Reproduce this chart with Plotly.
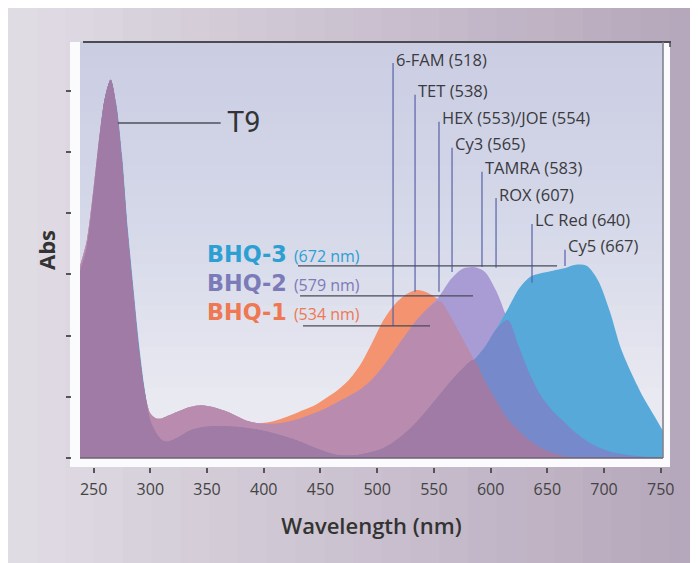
import numpy as np
import plotly.graph_objects as go

# ---------------- data ----------------
wavelength = [238, 244, 250, 256, 260, 265, 270, 275, 280, 285, 290, 295, 300, 305, 310,
              315, 325, 335, 345, 355, 365, 375, 385, 395, 405, 415, 425, 435, 445, 455,
              465, 475, 485, 495, 505, 515, 525, 535, 545, 555, 565, 575, 585, 595, 605,
              615, 625, 635, 645, 655, 665, 675, 685, 695, 705, 715, 725, 735, 745, 752]

bhq1 = [3.2, 3.62, 4.5, 5.5, 6.0, 6.3, 5.85, 4.95, 3.75, 2.75, 1.8, 1.1, 0.74, 0.66, 0.66,
        0.7, 0.78, 0.85, 0.88, 0.85, 0.79, 0.71, 0.62, 0.58, 0.6, 0.65, 0.72, 0.8, 0.88, 1.0,
        1.13, 1.3, 1.55, 1.9, 2.28, 2.55, 2.72, 2.8, 2.75, 2.62, 2.35, 2.0, 1.65, 1.28, 0.95,
        0.65, 0.45, 0.28, 0.16, 0.08, 0.03, 0.01, 0, 0, 0, 0, 0, 0, 0, 0]

bhq2 = [3.2, 3.62, 4.5, 5.5, 6.0, 6.3, 5.85, 4.95, 3.75, 2.75, 1.8, 1.1, 0.74, 0.66, 0.66,
        0.7, 0.78, 0.85, 0.88, 0.85, 0.79, 0.71, 0.62, 0.58, 0.57, 0.58, 0.62, 0.68, 0.75, 0.83,
        0.93, 1.03, 1.14, 1.3, 1.52, 1.78, 2.05, 2.3, 2.5, 2.7, 2.98, 3.15, 3.18, 3.1, 2.78,
        2.3, 1.85, 1.38, 1.02, 0.78, 0.6, 0.42, 0.28, 0.18, 0.11, 0.07, 0.04, 0.02, 0.01, 0]

bhq3 = [3.1, 3.5, 4.4, 5.45, 6.0, 6.3, 5.9, 5.05, 3.85, 2.85, 1.9, 1.15, 0.62, 0.42, 0.3,
        0.27, 0.35, 0.46, 0.51, 0.53, 0.53, 0.52, 0.5, 0.47, 0.43, 0.38, 0.32, 0.25, 0.17, 0.1,
        0.05, 0.04, 0.06, 0.1, 0.16, 0.27, 0.42, 0.6, 0.82, 1.05, 1.28, 1.48, 1.63, 1.85, 2.15,
        2.48, 2.82, 3.02, 3.08, 3.12, 3.16, 3.22, 3.2, 2.95, 2.45, 1.82, 1.38, 1.0, 0.68, 0.45]

dye_names = ["6-FAM (518)", "TET (538)", "HEX (553)/JOE (554)", "Cy3 (565)",
             "TAMRA (583)", "ROX (607)", "LC Red (640)", "Cy5 (667)"]
dye_line_nm = [514, 533.4, 554.5, 566, 592.4, 604.8, 636.5, 665.6]
dye_line_top = [6.58, 6.05, 5.6, 5.17, 4.77, 4.33, 3.9, 3.47]
dye_line_bottom = [2.2, 2.77, 2.77, 3.1, 3.18, 3.17, 2.92, 3.2]

bhq_names = ["BHQ-3", "BHQ-2", "BHQ-1"]
bhq_peaks = ["(672 nm)", "(579 nm)", "(534 nm)"]
bhq_label_nm = 348
bhq_label_y = 2.92
bhq_line_start = [430.2, 432.0, 434.6]
bhq_line_end = [658.6, 584.5, 546.6]
bhq_line_y = [3.2, 2.7, 2.2]

t9_line_nm = [271.4, 362.0]
t9_line_y = 5.58
t9_label_nm = 366.0

x_ticks = [250, 300, 350, 400, 450, 500, 550, 600, 650, 700, 750]

# ---------------- styling ----------------
OFF = 8                      # page body margin of the browser
W, H = 690, 555
ML, MR, MT, MB = 63, 28, 34, 96
PW = W - ML - MR
PH = H - MT - MB


def pxx(px):                 # window pixel -> paper x
    return (px - OFF - ML) / PW


def pxy(py):                 # window pixel -> paper y
    return (H - MB - (py - OFF)) / PH


C1 = "#f3936f"    # BHQ-1 only
C2 = "#a99cd5"    # BHQ-2 only
C3 = "#56a9d9"    # BHQ-3 only
C12 = "#b98bae"
C23 = "#7689ca"
C13 = "#a4829f"
C123 = "#9f7ba5"

b1 = np.array(bhq1)
b2 = np.array(bhq2)
b3 = np.array(bhq3)

layers = [
    (b1, C1), (b2, C2), (b3, C3),
    (np.minimum(b1, b2), C12), (np.minimum(b2, b3), C23), (np.minimum(b1, b3), C13),
    (np.minimum(np.minimum(b1, b2), b3), C123),
]

fig = go.Figure()
for vals, col in layers:
    fig.add_trace(go.Scatter(
        x=wavelength, y=vals, mode="lines", fill="tozeroy", fillcolor=col,
        line=dict(width=0, color=col, shape="spline", smoothing=0.8),
        hoverinfo="skip", showlegend=False,
    ))

shapes = []
# paper background gradient (horizontal)
cl, cr = np.array([224, 220, 228]), np.array([182, 168, 188])
n = 24
x0p, x1p = pxx(OFF), pxx(OFF + W)
for i in range(n):
    t = i / (n - 1)
    c = (cl * (1 - t) + cr * t).astype(int)
    shapes.append(dict(type="rect", xref="paper", yref="paper",
                       x0=x0p + (x1p - x0p) * i / n, x1=x0p + (x1p - x0p) * (i + 1) / n + 0.002,
                       y0=pxy(OFF + H), y1=pxy(OFF), fillcolor=f"rgb({c[0]},{c[1]},{c[2]})",
                       line=dict(width=0), layer="below"))
# white frame around plot
shapes.append(dict(type="rect", xref="paper", yref="paper", x0=pxx(70), x1=pxx(670),
                   y0=pxy(467), y1=pxy(42), fillcolor="#fbfbfd", line=dict(width=0), layer="below"))
# plot background gradient (vertical)
stops = [(0.0, (236, 235, 242)), (0.15, (233, 233, 241)), (0.55, (214, 217, 233)), (1.0, (203, 206, 227))]
nb = 30
for i in range(nb):
    t = (i + 0.5) / nb
    for j in range(len(stops) - 1):
        if stops[j][0] <= t <= stops[j + 1][0]:
            f = (t - stops[j][0]) / (stops[j + 1][0] - stops[j][0])
            c = [int(stops[j][1][k] * (1 - f) + stops[j + 1][1][k] * f) for k in range(3)]
            break
    shapes.append(dict(type="rect", xref="x domain", yref="y domain", x0=0, x1=1,
                       y0=i / nb, y1=(i + 1) / nb + 0.002,
                       fillcolor=f"rgb({c[0]},{c[1]},{c[2]})", line=dict(width=0), layer="below"))
# frame lines
shapes.append(dict(type="line", xref="paper", yref="paper", x0=pxx(83), x1=pxx(671),
                   y0=pxy(42), y1=pxy(42), line=dict(color="#4d4b52", width=2.2), layer="above"))
shapes.append(dict(type="line", xref="paper", yref="paper", x0=pxx(670), x1=pxx(670),
                   y0=pxy(42), y1=pxy(47), line=dict(color="#4d4b52", width=1.5), layer="above"))
shapes.append(dict(type="line", xref="x domain", yref="y domain", x0=1, x1=1, y0=0, y1=1,
                   line=dict(color="#85838f", width=1.6), layer="above"))
shapes.append(dict(type="line", xref="x domain", yref="y domain", x0=0, x1=1, y0=0, y1=0,
                   line=dict(color="#6e6274", width=1.5), layer="above"))

# dye lines
for xn, yt, yb in zip(dye_line_nm, dye_line_top, dye_line_bottom):
    shapes.append(dict(type="line", xref="x", yref="y", x0=xn, x1=xn, y0=yb, y1=yt,
                       line=dict(color="#5862a8", width=1.2), layer="above"))
# BHQ lines
for xs, xe, yy in zip(bhq_line_start, bhq_line_end, bhq_line_y):
    shapes.append(dict(type="line", xref="x", yref="y", x0=xs, x1=xe, y0=yy, y1=yy,
                       line=dict(color="#4a4a58", width=1.3), layer="above"))
# T9 line
shapes.append(dict(type="line", xref="x", yref="y", x0=t9_line_nm[0], x1=t9_line_nm[1],
                   y0=t9_line_y, y1=t9_line_y, line=dict(color="#4f4f5a", width=1.5), layer="above"))

annotations = []
for name, xn, yt in zip(dye_names, dye_line_nm, dye_line_top):
    annotations.append(dict(x=xn, y=yt, xref="x", yref="y", text=name, showarrow=False,
                            xanchor="left", yanchor="middle", xshift=1, yshift=4,
                            font=dict(family="Open Sans", size=16.5, color="#3a3a40")))
bhq_colors = ["#2c9fd3", "#7b7bb9", "#ef7853"]
bhq_lines = [
    f"<span style='color:{col}'><b>{nm}</b>"
    f" <span style='font-family:Open Sans; font-size:16px'>{pk}</span></span>"
    for nm, pk, col in zip(bhq_names, bhq_peaks, bhq_colors)
]
annotations.append(dict(x=bhq_label_nm, y=bhq_label_y, xref="x", yref="y",
                        text="<br>".join(bhq_lines), showarrow=False, align="left",
                        xanchor="left", yanchor="middle",
                        font=dict(family="DejaVu Sans", size=22.3, color=bhq_colors[1])))
annotations.append(dict(x=t9_label_nm, y=t9_line_y, xref="x", yref="y", text="T9", showarrow=False,
                        xanchor="left", yanchor="middle", yshift=1,
                        font=dict(family="Roboto", size=29, color="#333338")))

fig.update_layout(
    width=W, height=H,
    margin=dict(l=ML, r=MR, t=MT, b=MB, autoexpand=False),
    paper_bgcolor="#d8d3dc",
    plot_bgcolor="rgba(0,0,0,0)",
    shapes=shapes,
    annotations=annotations,
    showlegend=False,
    xaxis=dict(
        range=[238, 752], domain=[pxx(80), pxx(663)], anchor="free", position=0,
        tickmode="array", tickvals=x_ticks, ticks="outside", ticklen=5, tickwidth=1.5,
        tickcolor="#555", showgrid=False, zeroline=False, showline=False, automargin=False,
        tickfont=dict(family="Open Sans", size=16, color="#444"),
        ticklabelstandoff=3,
        title=dict(text="Wavelength (nm)", standoff=19,
                   font=dict(family="Open Sans", size=22, color="#333", weight=600)),
    ),
    yaxis=dict(
        range=[0, 6.93], domain=[pxy(458), 1], anchor="free", position=0,
        tick0=0, dtick=1.02, ticks="outside", ticklen=5, tickwidth=1.5, tickcolor="#555",
        showticklabels=False, showgrid=False, zeroline=False, showline=False, automargin=False,
        title=dict(text="Abs", standoff=3,
                   font=dict(family="Open Sans", size=22, color="#333", weight="bold")),
    ),
)

fig.write_html("out.html")
